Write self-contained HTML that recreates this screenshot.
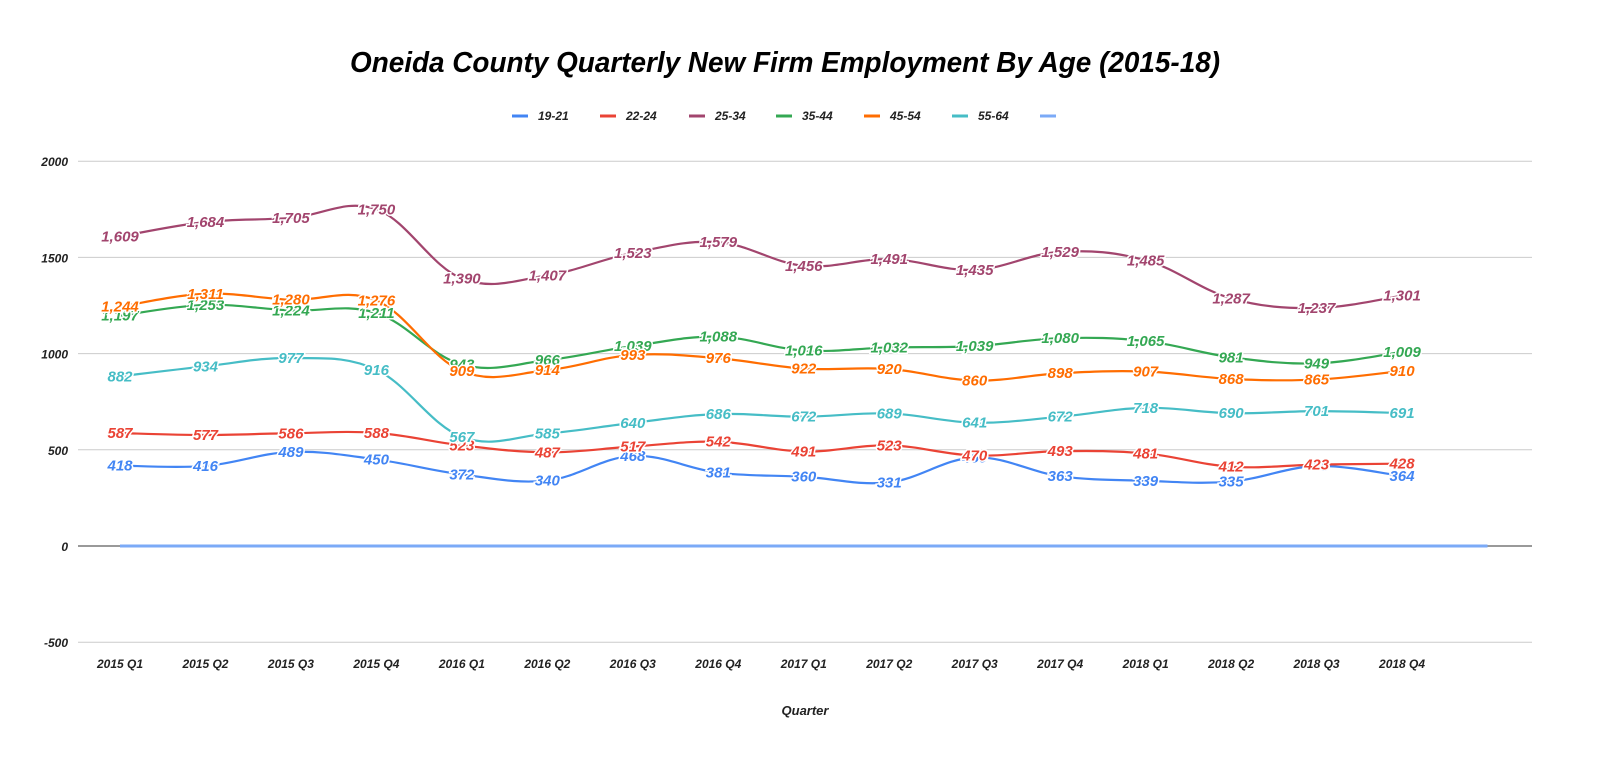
<!DOCTYPE html>
<html><head><meta charset="utf-8">
<style>
body{margin:0;background:#fff;width:1600px;height:772px;overflow:hidden;font-family:"Liberation Sans",Arial,sans-serif}
svg text{font-family:"Liberation Sans",Arial,sans-serif;font-style:italic;font-weight:bold}
</style></head><body>
<svg id="chart" width="1600" height="772" viewBox="0 0 1600 772">
<text x="785" y="72" text-anchor="middle" font-size="29" textLength="870" lengthAdjust="spacingAndGlyphs" fill="#000">Oneida County Quarterly New Firm Employment By Age (2015-18)</text>
<g id="grid"></g><g id="series"></g><g id="labels"></g><g id="legend"></g>
<text x="805" y="715" text-anchor="middle" font-size="13" fill="#222">Quarter</text>
</svg>
<script>
const categories=["2015 Q1","2015 Q2","2015 Q3","2015 Q4","2016 Q1","2016 Q2","2016 Q3","2016 Q4","2017 Q1","2017 Q2","2017 Q3","2017 Q4","2018 Q1","2018 Q2","2018 Q3","2018 Q4"];
const seriesNames=["19-21","22-24","25-34","35-44","45-54","55-64",""];
const s1921=[418,416,489,450,372,340,468,381,360,331,460,363,339,335,415,364];
const s2224=[587,577,586,588,523,487,517,542,491,523,470,493,481,412,423,428];
const s2534=[1609,1684,1705,1750,1390,1407,1523,1579,1456,1491,1435,1529,1485,1287,1237,1301];
const s3544=[1197,1253,1224,1211,943,966,1039,1088,1016,1032,1039,1080,1065,981,949,1009];
const s4554=[1244,1311,1280,1276,909,914,993,976,922,920,860,898,907,868,865,910];
const s5564=[882,934,977,916,567,585,640,686,672,689,641,672,718,690,701,691];
const sEmpty=[0,0,0,0,0,0,0,0,0,0,0,0,0,0,0,0,0];
const yTicks=[-500,0,500,1000,1500,2000];
const colors=["#4285f4","#ea4335","#a2456e","#34a853","#ff6d01","#46bdc6","#7baaf7"];
const NS="http://www.w3.org/2000/svg";
const x=i=>120+i*85.47, y=v=>546-v*0.1924;
function mk(t,a,p){const e=document.createElementNS(NS,t);for(const k in a)e.setAttribute(k,a[k]);p.appendChild(e);return e;}
const grid=document.getElementById('grid');
yTicks.forEach(t=>{
 const l=mk('line',{x1:78,x2:1532,y1:y(t),y2:y(t),stroke:t===0?'#333':'#ccc','stroke-width':1},grid);
 
 
 const tx=mk('text',{x:68,y:y(t)+5,'text-anchor':'end','font-size':12,fill:'#222'},grid);tx.textContent=t;
 
 
});
categories.forEach((c,i)=>{
 const tx=mk('text',{x:x(i),y:668,'text-anchor':'middle','font-size':12,fill:'#222'},grid);tx.textContent=c;
 
 
});
function path(vals){
 const p=vals.map((v,i)=>[x(i),y(v)]);let d=`M${p[0][0]},${p[0][1]}`;
 for(let i=0;i<p.length-1;i++){const p0=p[Math.max(0,i-1)],p1=p[i],p2=p[i+1],p3=p[Math.min(p.length-1,i+2)];const k=0.18;
 d+=` C${p1[0]+(p2[0]-p0[0])*k},${p1[1]+(p2[1]-p0[1])*k} ${p2[0]-(p3[0]-p1[0])*k},${p2[1]-(p3[1]-p1[1])*k} ${p2[0]},${p2[1]}`;}
 return d;
}
const all=[s1921,s2224,s2534,s3544,s4554,s5564,sEmpty];
const sg=document.getElementById('series'),lg=document.getElementById('labels');
all.forEach((vals,si)=>{
 const pe=mk('path',{d:path(vals),fill:'none',stroke:colors[si],'stroke-width':si===6?3:2.2},sg);
 
 
 if(si===6)return;
 vals.forEach((v,i)=>{
  const t=mk('text',{x:x(i),y:y(v)+5,'text-anchor':'middle','font-size':15,fill:colors[si],stroke:'#fff','stroke-width':3,'paint-order':'stroke'},lg);
  t.textContent=v.toLocaleString('en-US');
  
  
 });
});
const lgd=document.getElementById('legend');
const lx=[512,600,689,776,864,952,1040];
seriesNames.forEach((n,i)=>{
 const g=mk('g',{},lgd);
 
 
 mk('line',{x1:lx[i],x2:lx[i]+16,y1:116,y2:116,stroke:colors[i],'stroke-width':3},g);
 const t=mk('text',{x:lx[i]+26,y:120,'font-size':12,fill:'#222'},g);t.textContent=n;
});
</script>
</body></html>
